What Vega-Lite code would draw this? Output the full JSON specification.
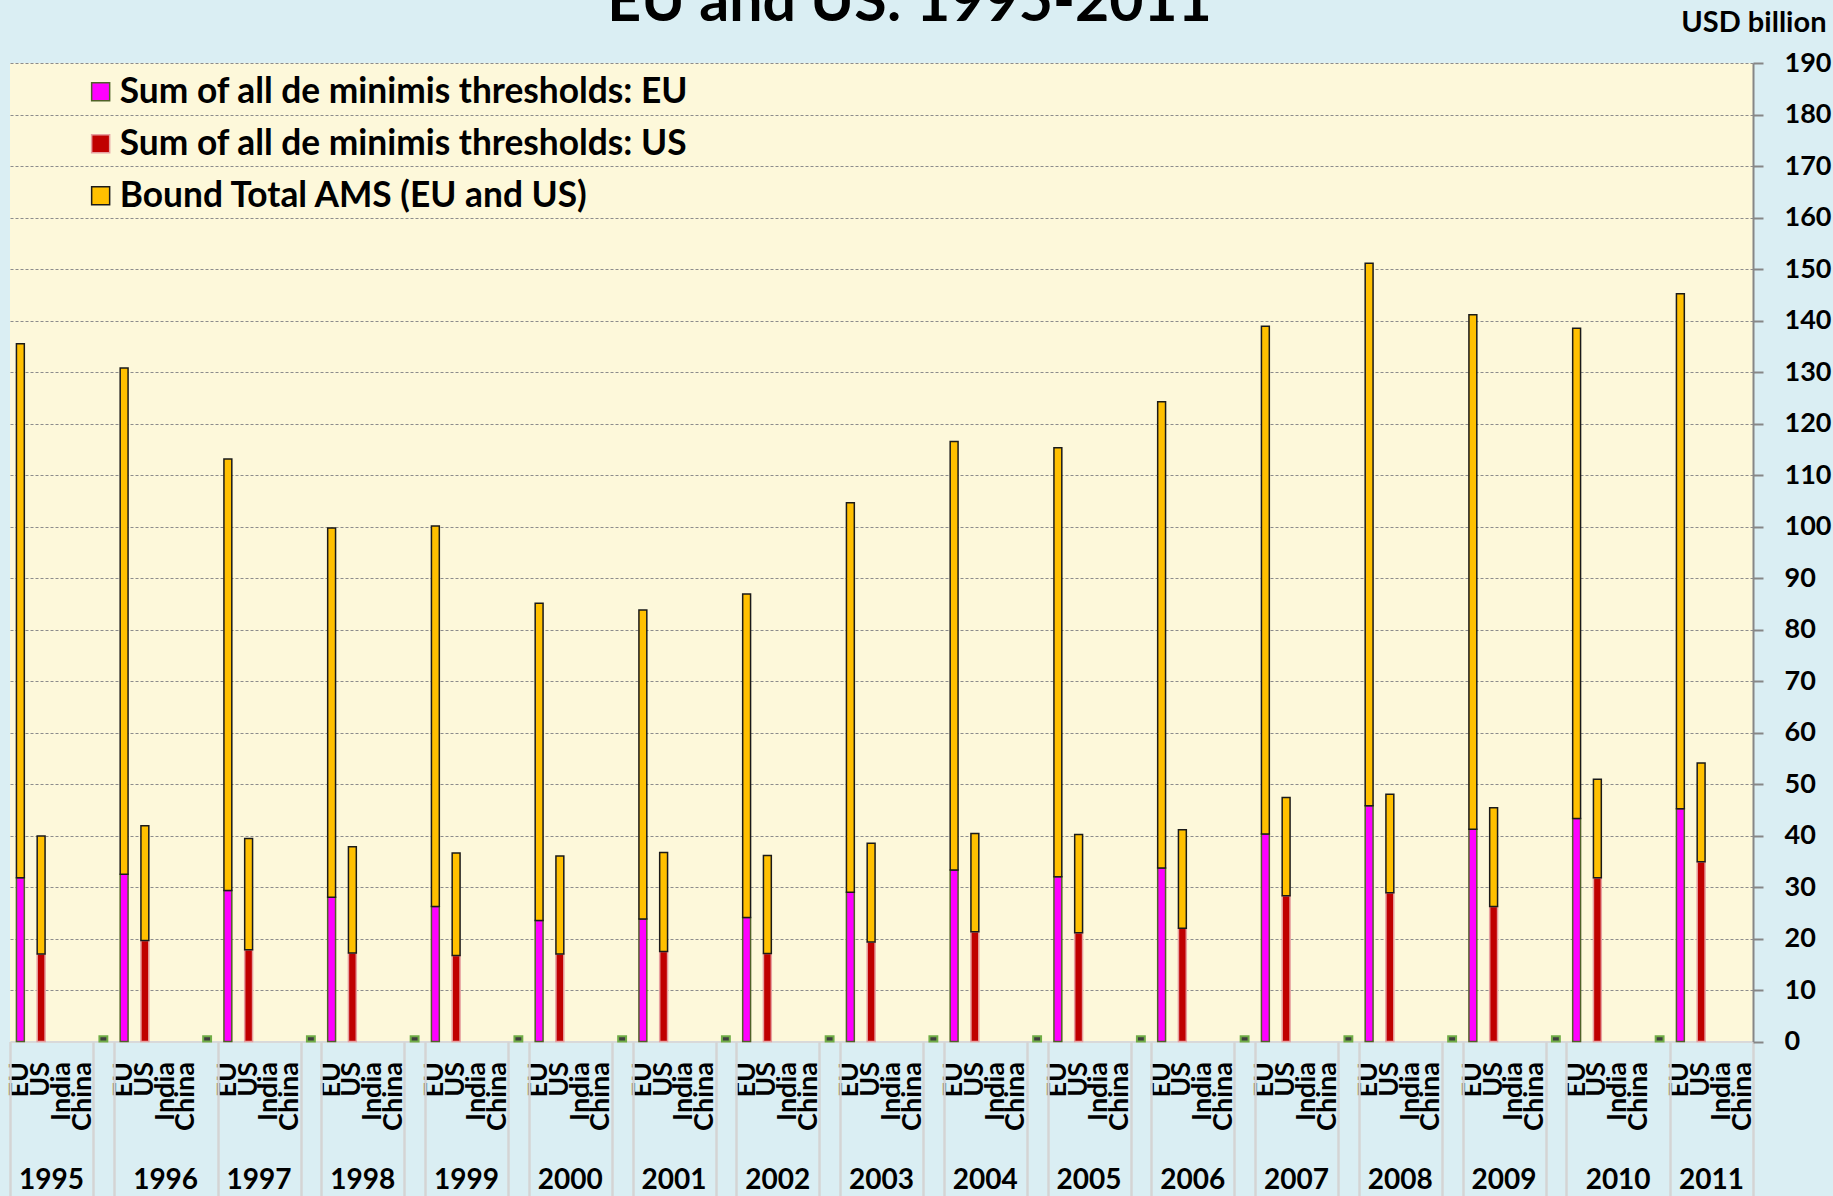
{
  "$schema": "https://vega.github.io/schema/vega-lite/v6.json",
  "width": 1743,
  "height": 978.5,
  "autosize": {"type": "none"},
  "padding": {"left": 10, "top": 63, "right": 80, "bottom": 154.5},
  "background": "#DAEEF3",
  "title": {"text": "EU and US: 1995-2011", "fontSize": 59, "fontWeight": "bold", "font": "Lato", "color": "#000000", "anchor": "middle", "frame": "group", "baseline": "alphabetic", "offset": -72, "dx": 28},
  "config": {
    "font": "Lato",
    "view": {"fill": "#FDF8DA", "stroke": null},
    "axis": {"labelFont": "Lato", "labelFontWeight": "bold", "labelColor": "#000000", "titleFont": "Lato", "titleColor": "#000000"}
  },
  "datasets": {
    "bars": [
      {"slot": "1995 EU", "series": "Sum of all de minimis thresholds: EU", "from": 0, "to": 31.8},
      {"slot": "1995 EU", "series": "Bound Total AMS (EU and US)", "from": 31.8, "to": 135.5},
      {"slot": "1995 US", "series": "Sum of all de minimis thresholds: US", "from": 0, "to": 17.0},
      {"slot": "1995 US", "series": "Bound Total AMS (EU and US)", "from": 17.0, "to": 39.9},
      {"slot": "1996 EU", "series": "Sum of all de minimis thresholds: EU", "from": 0, "to": 32.5},
      {"slot": "1996 EU", "series": "Bound Total AMS (EU and US)", "from": 32.5, "to": 130.8},
      {"slot": "1996 US", "series": "Sum of all de minimis thresholds: US", "from": 0, "to": 19.6},
      {"slot": "1996 US", "series": "Bound Total AMS (EU and US)", "from": 19.6, "to": 41.9},
      {"slot": "1997 EU", "series": "Sum of all de minimis thresholds: EU", "from": 0, "to": 29.3},
      {"slot": "1997 EU", "series": "Bound Total AMS (EU and US)", "from": 29.3, "to": 113.1},
      {"slot": "1997 US", "series": "Sum of all de minimis thresholds: US", "from": 0, "to": 17.8},
      {"slot": "1997 US", "series": "Bound Total AMS (EU and US)", "from": 17.8, "to": 39.4},
      {"slot": "1998 EU", "series": "Sum of all de minimis thresholds: EU", "from": 0, "to": 28.0},
      {"slot": "1998 EU", "series": "Bound Total AMS (EU and US)", "from": 28.0, "to": 99.7},
      {"slot": "1998 US", "series": "Sum of all de minimis thresholds: US", "from": 0, "to": 17.2},
      {"slot": "1998 US", "series": "Bound Total AMS (EU and US)", "from": 17.2, "to": 37.8},
      {"slot": "1999 EU", "series": "Sum of all de minimis thresholds: EU", "from": 0, "to": 26.2},
      {"slot": "1999 EU", "series": "Bound Total AMS (EU and US)", "from": 26.2, "to": 100.1},
      {"slot": "1999 US", "series": "Sum of all de minimis thresholds: US", "from": 0, "to": 16.7},
      {"slot": "1999 US", "series": "Bound Total AMS (EU and US)", "from": 16.7, "to": 36.6},
      {"slot": "2000 EU", "series": "Sum of all de minimis thresholds: EU", "from": 0, "to": 23.5},
      {"slot": "2000 EU", "series": "Bound Total AMS (EU and US)", "from": 23.5, "to": 85.1},
      {"slot": "2000 US", "series": "Sum of all de minimis thresholds: US", "from": 0, "to": 17.0},
      {"slot": "2000 US", "series": "Bound Total AMS (EU and US)", "from": 17.0, "to": 36.0},
      {"slot": "2001 EU", "series": "Sum of all de minimis thresholds: EU", "from": 0, "to": 23.8},
      {"slot": "2001 EU", "series": "Bound Total AMS (EU and US)", "from": 23.8, "to": 83.8},
      {"slot": "2001 US", "series": "Sum of all de minimis thresholds: US", "from": 0, "to": 17.5},
      {"slot": "2001 US", "series": "Bound Total AMS (EU and US)", "from": 17.5, "to": 36.7},
      {"slot": "2002 EU", "series": "Sum of all de minimis thresholds: EU", "from": 0, "to": 24.1},
      {"slot": "2002 EU", "series": "Bound Total AMS (EU and US)", "from": 24.1, "to": 86.9},
      {"slot": "2002 US", "series": "Sum of all de minimis thresholds: US", "from": 0, "to": 17.1},
      {"slot": "2002 US", "series": "Bound Total AMS (EU and US)", "from": 17.1, "to": 36.1},
      {"slot": "2003 EU", "series": "Sum of all de minimis thresholds: EU", "from": 0, "to": 29.0},
      {"slot": "2003 EU", "series": "Bound Total AMS (EU and US)", "from": 29.0, "to": 104.6},
      {"slot": "2003 US", "series": "Sum of all de minimis thresholds: US", "from": 0, "to": 19.3},
      {"slot": "2003 US", "series": "Bound Total AMS (EU and US)", "from": 19.3, "to": 38.5},
      {"slot": "2004 EU", "series": "Sum of all de minimis thresholds: EU", "from": 0, "to": 33.3},
      {"slot": "2004 EU", "series": "Bound Total AMS (EU and US)", "from": 33.3, "to": 116.5},
      {"slot": "2004 US", "series": "Sum of all de minimis thresholds: US", "from": 0, "to": 21.3},
      {"slot": "2004 US", "series": "Bound Total AMS (EU and US)", "from": 21.3, "to": 40.4},
      {"slot": "2005 EU", "series": "Sum of all de minimis thresholds: EU", "from": 0, "to": 32.0},
      {"slot": "2005 EU", "series": "Bound Total AMS (EU and US)", "from": 32.0, "to": 115.3},
      {"slot": "2005 US", "series": "Sum of all de minimis thresholds: US", "from": 0, "to": 21.1},
      {"slot": "2005 US", "series": "Bound Total AMS (EU and US)", "from": 21.1, "to": 40.2},
      {"slot": "2006 EU", "series": "Sum of all de minimis thresholds: EU", "from": 0, "to": 33.7},
      {"slot": "2006 EU", "series": "Bound Total AMS (EU and US)", "from": 33.7, "to": 124.2},
      {"slot": "2006 US", "series": "Sum of all de minimis thresholds: US", "from": 0, "to": 22.0},
      {"slot": "2006 US", "series": "Bound Total AMS (EU and US)", "from": 22.0, "to": 41.1},
      {"slot": "2007 EU", "series": "Sum of all de minimis thresholds: EU", "from": 0, "to": 40.3},
      {"slot": "2007 EU", "series": "Bound Total AMS (EU and US)", "from": 40.3, "to": 138.9},
      {"slot": "2007 US", "series": "Sum of all de minimis thresholds: US", "from": 0, "to": 28.3},
      {"slot": "2007 US", "series": "Bound Total AMS (EU and US)", "from": 28.3, "to": 47.4},
      {"slot": "2008 EU", "series": "Sum of all de minimis thresholds: EU", "from": 0, "to": 45.8},
      {"slot": "2008 EU", "series": "Bound Total AMS (EU and US)", "from": 45.8, "to": 151.1},
      {"slot": "2008 US", "series": "Sum of all de minimis thresholds: US", "from": 0, "to": 28.9},
      {"slot": "2008 US", "series": "Bound Total AMS (EU and US)", "from": 28.9, "to": 48.0},
      {"slot": "2009 EU", "series": "Sum of all de minimis thresholds: EU", "from": 0, "to": 41.2},
      {"slot": "2009 EU", "series": "Bound Total AMS (EU and US)", "from": 41.2, "to": 141.1},
      {"slot": "2009 US", "series": "Sum of all de minimis thresholds: US", "from": 0, "to": 26.2},
      {"slot": "2009 US", "series": "Bound Total AMS (EU and US)", "from": 26.2, "to": 45.4},
      {"slot": "2010 EU", "series": "Sum of all de minimis thresholds: EU", "from": 0, "to": 43.3},
      {"slot": "2010 EU", "series": "Bound Total AMS (EU and US)", "from": 43.3, "to": 138.5},
      {"slot": "2010 US", "series": "Sum of all de minimis thresholds: US", "from": 0, "to": 31.8},
      {"slot": "2010 US", "series": "Bound Total AMS (EU and US)", "from": 31.8, "to": 50.9},
      {"slot": "2011 EU", "series": "Sum of all de minimis thresholds: EU", "from": 0, "to": 45.2},
      {"slot": "2011 EU", "series": "Bound Total AMS (EU and US)", "from": 45.2, "to": 145.2},
      {"slot": "2011 US", "series": "Sum of all de minimis thresholds: US", "from": 0, "to": 34.9},
      {"slot": "2011 US", "series": "Bound Total AMS (EU and US)", "from": 34.9, "to": 54.1}
    ],
    "markers": [
      {"slot": "1995 gap", "value": 1}, {"slot": "1996 gap", "value": 1}, {"slot": "1997 gap", "value": 1},
      {"slot": "1998 gap", "value": 1}, {"slot": "1999 gap", "value": 1}, {"slot": "2000 gap", "value": 1},
      {"slot": "2001 gap", "value": 1}, {"slot": "2002 gap", "value": 1}, {"slot": "2003 gap", "value": 1},
      {"slot": "2004 gap", "value": 1}, {"slot": "2005 gap", "value": 1}, {"slot": "2006 gap", "value": 1},
      {"slot": "2007 gap", "value": 1}, {"slot": "2008 gap", "value": 1}, {"slot": "2009 gap", "value": 1},
      {"slot": "2010 gap", "value": 1}
    ],
    "years": [
      {"slot": "1995 US", "year": "1995"}, {"slot": "1997 US", "year": "1997"},
      {"slot": "1998 US", "year": "1998"}, {"slot": "1999 US", "year": "1999"}, {"slot": "2000 US", "year": "2000"},
      {"slot": "2001 US", "year": "2001"}, {"slot": "2002 US", "year": "2002"}, {"slot": "2003 US", "year": "2003"},
      {"slot": "2004 US", "year": "2004"}, {"slot": "2005 US", "year": "2005"}, {"slot": "2006 US", "year": "2006"},
      {"slot": "2007 US", "year": "2007"}, {"slot": "2008 US", "year": "2008"}, {"slot": "2009 US", "year": "2009"},
      {"slot": "2011 US", "year": "2011"}
    ],
    "wideYears": [
      {"slot": "1996 India", "year": "1996"}, {"slot": "2010 India", "year": "2010"}
    ]
  },
  "resolve": {"axis": {"x": "independent", "y": "shared"}},
  "layer": [
    {
      "data": {"name": "bars"},
      "mark": {"type": "bar", "strokeWidth": 1.5},
      "encoding": {
        "x": {
          "field": "slot", "type": "nominal",
          "scale": {"paddingInner": 0.62, "paddingOuter": 0.31, "domain": ["1995 EU","1995 US","1995 India","1995 China","1995 gap","1996 EU","1996 US","1996 India","1996 China","1996 gap","1997 EU","1997 US","1997 India","1997 China","1997 gap","1998 EU","1998 US","1998 India","1998 China","1998 gap","1999 EU","1999 US","1999 India","1999 China","1999 gap","2000 EU","2000 US","2000 India","2000 China","2000 gap","2001 EU","2001 US","2001 India","2001 China","2001 gap","2002 EU","2002 US","2002 India","2002 China","2002 gap","2003 EU","2003 US","2003 India","2003 China","2003 gap","2004 EU","2004 US","2004 India","2004 China","2004 gap","2005 EU","2005 US","2005 India","2005 China","2005 gap","2006 EU","2006 US","2006 India","2006 China","2006 gap","2007 EU","2007 US","2007 India","2007 China","2007 gap","2008 EU","2008 US","2008 India","2008 China","2008 gap","2009 EU","2009 US","2009 India","2009 China","2009 gap","2010 EU","2010 US","2010 India","2010 China","2010 gap","2011 EU","2011 US","2011 India","2011 China"]},
          "axis": {
            "orient": "bottom", "title": null, "ticks": false, "domain": true, "domainColor": "#D9D9D9", "domainWidth": 2,
            "labelAngle": -90, "labelFontSize": 27, "labelPadding": 20, "labelOverlap": false, "labelBound": false,
            "labelExpr": "split(datum.value, ' ')[1]",
            "values": ["1995 EU","1995 US","1995 India","1995 China","1996 EU","1996 US","1996 India","1996 China","1997 EU","1997 US","1997 India","1997 China","1998 EU","1998 US","1998 India","1998 China","1999 EU","1999 US","1999 India","1999 China","2000 EU","2000 US","2000 India","2000 China","2001 EU","2001 US","2001 India","2001 China","2002 EU","2002 US","2002 India","2002 China","2003 EU","2003 US","2003 India","2003 China","2004 EU","2004 US","2004 India","2004 China","2005 EU","2005 US","2005 India","2005 China","2006 EU","2006 US","2006 India","2006 China","2007 EU","2007 US","2007 India","2007 China","2008 EU","2008 US","2008 India","2008 China","2009 EU","2009 US","2009 India","2009 China","2010 EU","2010 US","2010 India","2010 China","2011 EU","2011 US","2011 India","2011 China"]
          }
        },
        "y": {
          "field": "to", "type": "quantitative",
          "scale": {"domain": [0, 190], "nice": false},
          "axis": {
            "orient": "right", "values": [0,10,20,30,40,50,60,70,80,90,100,110,120,130,140,150,160,170,180,190],
            "grid": true, "gridDash": [3, 2], "gridColor": "#8C8C8C", "gridWidth": 1,
            "domainColor": "#868686", "domainWidth": 2, "tickColor": "#868686", "tickWidth": 2, "tickSize": 10,
            "labelFontSize": 27, "labelPadding": 21, "labelAlign": "left", "labelBaseline": "middle",
            "title": "USD billion", "titleFontSize": 29, "titleFontWeight": "bold", "titleAngle": 0,
            "titleAlign": "right", "titleBaseline": "alphabetic", "titleX": 73, "titleY": -32
          }
        },
        "y2": {"field": "from"},
        "color": {
          "field": "series", "type": "nominal",
          "scale": {"domain": ["Sum of all de minimis thresholds: EU", "Sum of all de minimis thresholds: US", "Bound Total AMS (EU and US)"], "range": ["#FF00FF", "#C00000", "#FFC000"]},
          "legend": {"title": null, "orient": "none", "legendX": 73, "legendY": 11, "padding": 0, "symbolType": "square", "symbolSize": 324, "symbolStrokeWidth": 1.5, "labelFontSize": 35.3, "labelFontWeight": "bold", "labelFont": "Lato", "labelColor": "#000000", "labelOffset": 1.5, "rowPadding": 16, "labelLimit": 900}
        },
        "stroke": {
          "field": "series", "type": "nominal",
          "scale": {"domain": ["Sum of all de minimis thresholds: EU", "Sum of all de minimis thresholds: US", "Bound Total AMS (EU and US)"], "range": ["#4F6228", "#E6A0A0", "#1A1A1A"]},
          "legend": {"title": null, "orient": "none", "legendX": 73, "legendY": 11, "padding": 0, "symbolType": "square", "symbolSize": 324, "symbolStrokeWidth": 1.5, "labelFontSize": 35.3, "labelFontWeight": "bold", "labelFont": "Lato", "labelColor": "#000000", "labelOffset": 1.5, "rowPadding": 16, "labelLimit": 900}
        }
      }
    },
    {
      "data": {"name": "markers"},
      "mark": {"type": "bar", "fill": "#3F3F3F", "stroke": "#70AD47", "strokeWidth": 2},
      "encoding": {
        "x": {
          "field": "slot", "type": "nominal",
          "scale": {"paddingInner": 0.62, "paddingOuter": 0.31, "domain": ["1995 EU","1995 US","1995 India","1995 China","1995 gap","1996 EU","1996 US","1996 India","1996 China","1996 gap","1997 EU","1997 US","1997 India","1997 China","1997 gap","1998 EU","1998 US","1998 India","1998 China","1998 gap","1999 EU","1999 US","1999 India","1999 China","1999 gap","2000 EU","2000 US","2000 India","2000 China","2000 gap","2001 EU","2001 US","2001 India","2001 China","2001 gap","2002 EU","2002 US","2002 India","2002 China","2002 gap","2003 EU","2003 US","2003 India","2003 China","2003 gap","2004 EU","2004 US","2004 India","2004 China","2004 gap","2005 EU","2005 US","2005 India","2005 China","2005 gap","2006 EU","2006 US","2006 India","2006 China","2006 gap","2007 EU","2007 US","2007 India","2007 China","2007 gap","2008 EU","2008 US","2008 India","2008 China","2008 gap","2009 EU","2009 US","2009 India","2009 China","2009 gap","2010 EU","2010 US","2010 India","2010 China","2010 gap","2011 EU","2011 US","2011 India","2011 China"]},
          "axis": {
            "orient": "bottom", "title": null, "labels": false, "domain": false, "grid": false, "ticks": true,
            "bandPosition": 0, "tickOffset": -6.43, "tickSize": 155, "tickColor": "#D4D4D4", "tickWidth": 2.5,
            "values": ["1995 EU","1995 gap","1996 EU","1997 EU","1997 gap","1998 EU","1998 gap","1999 EU","1999 gap","2000 EU","2000 gap","2001 EU","2001 gap","2002 EU","2002 gap","2003 EU","2003 gap","2004 EU","2004 gap","2005 EU","2005 gap","2006 EU","2006 gap","2007 EU","2007 gap","2008 EU","2008 gap","2009 EU","2009 gap","2010 EU","2011 EU"]
          }
        },
        "y": {
          "field": "value", "type": "quantitative",
          "scale": {"domain": [0, 190], "nice": false},
          "axis": {
            "orient": "right", "values": [0,10,20,30,40,50,60,70,80,90,100,110,120,130,140,150,160,170,180,190],
            "grid": true, "gridDash": [3, 2], "gridColor": "#8C8C8C", "gridWidth": 1,
            "domainColor": "#868686", "domainWidth": 2, "tickColor": "#868686", "tickWidth": 2, "tickSize": 10,
            "labelFontSize": 27, "labelPadding": 21, "labelAlign": "left", "labelBaseline": "middle",
            "title": "USD billion", "titleFontSize": 29, "titleFontWeight": "bold", "titleAngle": 0,
            "titleAlign": "right", "titleBaseline": "alphabetic", "titleX": 73, "titleY": -32
          }
        }
      }
    },
    {
      "data": {"name": "years"},
      "mark": {"type": "text", "fontSize": 28, "fontWeight": "bold", "font": "Lato", "color": "#000000", "align": "center", "baseline": "middle", "dx": 10.4, "dy": 139},
      "encoding": {
        "x": {
          "field": "slot", "type": "nominal",
          "scale": {"paddingInner": 0.62, "paddingOuter": 0.31, "domain": ["1995 EU","1995 US","1995 India","1995 China","1995 gap","1996 EU","1996 US","1996 India","1996 China","1996 gap","1997 EU","1997 US","1997 India","1997 China","1997 gap","1998 EU","1998 US","1998 India","1998 China","1998 gap","1999 EU","1999 US","1999 India","1999 China","1999 gap","2000 EU","2000 US","2000 India","2000 China","2000 gap","2001 EU","2001 US","2001 India","2001 China","2001 gap","2002 EU","2002 US","2002 India","2002 China","2002 gap","2003 EU","2003 US","2003 India","2003 China","2003 gap","2004 EU","2004 US","2004 India","2004 China","2004 gap","2005 EU","2005 US","2005 India","2005 China","2005 gap","2006 EU","2006 US","2006 India","2006 China","2006 gap","2007 EU","2007 US","2007 India","2007 China","2007 gap","2008 EU","2008 US","2008 India","2008 China","2008 gap","2009 EU","2009 US","2009 India","2009 China","2009 gap","2010 EU","2010 US","2010 India","2010 China","2010 gap","2011 EU","2011 US","2011 India","2011 China"]},
          "axis": {
            "orient": "bottom", "title": null, "labels": false, "domain": false, "grid": false, "ticks": true,
            "bandPosition": 1, "tickOffset": 6.43, "tickSize": 155, "tickColor": "#D4D4D4", "tickWidth": 2.5,
            "values": ["2011 China"]
          }
        },
        "y": {
          "datum": 0, "type": "quantitative",
          "scale": {"domain": [0, 190], "nice": false},
          "axis": {
            "orient": "right", "values": [0,10,20,30,40,50,60,70,80,90,100,110,120,130,140,150,160,170,180,190],
            "grid": true, "gridDash": [3, 2], "gridColor": "#8C8C8C", "gridWidth": 1,
            "domainColor": "#868686", "domainWidth": 2, "tickColor": "#868686", "tickWidth": 2, "tickSize": 10,
            "labelFontSize": 27, "labelPadding": 21, "labelAlign": "left", "labelBaseline": "middle",
            "title": "USD billion", "titleFontSize": 29, "titleFontWeight": "bold", "titleAngle": 0,
            "titleAlign": "right", "titleBaseline": "alphabetic", "titleX": 73, "titleY": -32
          }
        },
        "text": {"field": "year", "type": "nominal"}
      }
    },
    {
      "data": {"name": "wideYears"},
      "mark": {"type": "text", "fontSize": 28, "fontWeight": "bold", "font": "Lato", "color": "#000000", "align": "center", "baseline": "middle", "dy": 139},
      "encoding": {
        "x": {
          "field": "slot", "type": "nominal",
          "scale": {"paddingInner": 0.62, "paddingOuter": 0.31, "domain": ["1995 EU","1995 US","1995 India","1995 China","1995 gap","1996 EU","1996 US","1996 India","1996 China","1996 gap","1997 EU","1997 US","1997 India","1997 China","1997 gap","1998 EU","1998 US","1998 India","1998 China","1998 gap","1999 EU","1999 US","1999 India","1999 China","1999 gap","2000 EU","2000 US","2000 India","2000 China","2000 gap","2001 EU","2001 US","2001 India","2001 China","2001 gap","2002 EU","2002 US","2002 India","2002 China","2002 gap","2003 EU","2003 US","2003 India","2003 China","2003 gap","2004 EU","2004 US","2004 India","2004 China","2004 gap","2005 EU","2005 US","2005 India","2005 China","2005 gap","2006 EU","2006 US","2006 India","2006 China","2006 gap","2007 EU","2007 US","2007 India","2007 China","2007 gap","2008 EU","2008 US","2008 India","2008 China","2008 gap","2009 EU","2009 US","2009 India","2009 China","2009 gap","2010 EU","2010 US","2010 India","2010 China","2010 gap","2011 EU","2011 US","2011 India","2011 China"]},
          "axis": null
        },
        "y": {
          "datum": 0, "type": "quantitative",
          "scale": {"domain": [0, 190], "nice": false},
          "axis": {
            "orient": "right", "values": [0,10,20,30,40,50,60,70,80,90,100,110,120,130,140,150,160,170,180,190],
            "grid": true, "gridDash": [3, 2], "gridColor": "#8C8C8C", "gridWidth": 1,
            "domainColor": "#868686", "domainWidth": 2, "tickColor": "#868686", "tickWidth": 2, "tickSize": 10,
            "labelFontSize": 27, "labelPadding": 21, "labelAlign": "left", "labelBaseline": "middle",
            "title": "USD billion", "titleFontSize": 29, "titleFontWeight": "bold", "titleAngle": 0,
            "titleAlign": "right", "titleBaseline": "alphabetic", "titleX": 73, "titleY": -32
          }
        },
        "text": {"field": "year", "type": "nominal"}
      }
    }
  ]
}
